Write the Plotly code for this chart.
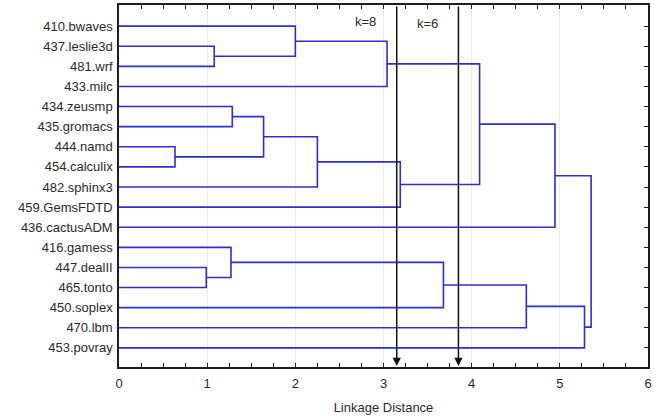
import plotly.graph_objects as go

# Benchmarks, in dendrogram order from top to bottom
leaves = ["410.bwaves", "437.leslie3d", "481.wrf", "433.milc", "434.zeusmp",
          "435.gromacs", "444.namd", "454.calculix", "482.sphinx3", "459.GemsFDTD",
          "436.cactusADM", "416.gamess", "447.dealII", "465.tonto", "450.soplex",
          "470.lbm", "453.povray"]

# Agglomerative merges: cluster ids 0..16 are leaves, each merge creates id 17, 18, ...
merge_left = [1, 0, 18, 6, 4, 21, 22, 23, 19, 25, 12, 11, 28, 29, 30, 26]
merge_right = [2, 17, 3, 7, 5, 20, 8, 9, 24, 10, 13, 27, 14, 15, 16, 31]
merge_height = [1.08, 2.00, 3.04, 0.635, 1.285, 1.64, 2.25, 3.19, 4.09, 4.945,
                0.99, 1.27, 3.68, 4.62, 5.28, 5.355]

# Cut levels
cut_levels = [3.15, 3.85]
cut_labels = ["k=8", "k=6"]

n = len(leaves)
pos = {i: (0.0, float(i)) for i in range(n)}  # id -> (height, y)
xs, ys = [], []
for k, (a, b, h) in enumerate(zip(merge_left, merge_right, merge_height)):
    ha, ya = pos[a]
    hb, yb = pos[b]
    xs += [ha, h, h, hb, None]
    ys += [ya, ya, yb, yb, None]
    pos[n + k] = (h, (ya + yb) / 2)

BLUE = "#2f2fcf"
AX = "#1e1e1e"
TXT = "#2a2a2a"
Y_RANGE = [16.95, -1.05]

fig = go.Figure()
fig.add_trace(go.Scatter(x=xs, y=ys, mode="lines",
                         line=dict(color=BLUE, width=1.6),
                         hoverinfo="skip", showlegend=False))
# invisible trace to carry the right-hand tick axis
fig.add_trace(go.Scatter(x=[None], y=[None], yaxis="y2", showlegend=False))

for lvl, lab, dx, dy in zip(cut_levels, cut_labels, [-0.35, -0.35], [-0.23, -0.11]):
    fig.add_annotation(x=lvl, y=16.9, ax=lvl, ay=Y_RANGE[1], xref="x", yref="y",
                       axref="x", ayref="y", text="", showarrow=True,
                       arrowhead=2, arrowsize=1.1, arrowwidth=1.5,
                       arrowcolor="#111111", standoff=0, startstandoff=0)
    fig.add_annotation(x=lvl + dx, y=dy, xref="x", yref="y", text=lab,
                       showarrow=False, font=dict(size=13, color=TXT))

fig.update_layout(
    width=659, height=416,
    margin=dict(l=119, r=11, t=3, b=49),
    paper_bgcolor="white", plot_bgcolor="white",
    font=dict(family="Liberation Sans, Arial, sans-serif", size=13, color=TXT),
    xaxis=dict(range=[0, 6], tickvals=[0, 1, 2, 3, 4, 5, 6],
               ticks="inside", ticklen=4, tickcolor=AX, tickwidth=1,
               minor=dict(dtick=0.25, ticks="inside", ticklen=4, tickcolor=AX,
                          showgrid=False),
               showline=True, linecolor=AX, linewidth=1.5, mirror="ticks",
               showgrid=True, gridcolor="#ececec", gridwidth=1, zeroline=False,
               ticklabelstandoff=4,
               title=dict(text="Linkage Distance", standoff=13,
                          font=dict(size=13, color=TXT)),
               tickfont=dict(size=13, color=TXT)),
    yaxis=dict(range=Y_RANGE, tickvals=list(range(n)), ticktext=leaves,
               ticks="", showline=True, linecolor=AX, linewidth=1.5, mirror=True,
               showgrid=False, zeroline=False, ticklabelstandoff=2,
               tickfont=dict(size=13, color=TXT)),
    yaxis2=dict(range=Y_RANGE, overlaying="y", side="right",
                tickvals=list(range(n)), showticklabels=False,
                ticks="inside", ticklen=4, tickcolor=AX,
                showgrid=False, zeroline=False, showline=False),
)

fig.write_html("out.html")
